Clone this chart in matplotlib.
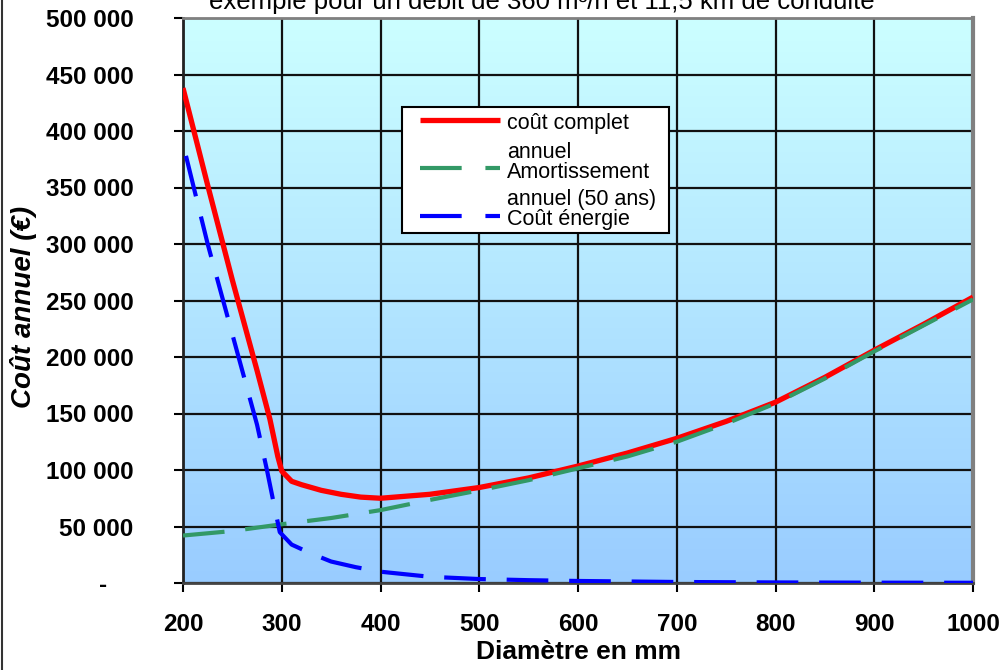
import numpy as np
import matplotlib
matplotlib.use("Agg")
import matplotlib.pyplot as plt
from matplotlib.ticker import FuncFormatter, MultipleLocator
from matplotlib.lines import Line2D
from matplotlib.patches import Rectangle

# --- data ---
diam_complet = [200, 225, 250, 275, 288, 296, 300, 310, 320, 340, 360, 380, 400,
                450, 500, 550, 600, 650, 700, 750, 800, 850, 900, 950, 1000]
cout_complet = [438000, 352000, 268000, 188000, 145000, 112000, 99000, 90000, 87000,
                82000, 78500, 76000, 75000, 78500, 84500, 93000, 103500, 115000,
                128000, 143000, 160000, 182000, 206000, 229000, 253000]

diam_amort = [200, 250, 300, 350, 400, 450, 500, 550, 600, 650, 700, 750,
              800, 850, 900, 950, 1000]
amortissement = [42000, 46000, 52000, 57500, 64500, 73500, 82000, 91000, 101500,
                 112000, 125000, 141000, 159000, 181000, 205000, 228000, 251000]

diam_energie = [203, 225, 250, 275, 285, 292, 298, 310, 330, 350, 375, 400, 450,
                500, 550, 600, 700, 800, 900, 1000]
cout_energie = [378000, 300000, 220000, 140000, 100000, 70000, 45000, 34000, 26000,
                19000, 14000, 10000, 5500, 3500, 2500, 1800, 900, 500, 300, 200]

labels = ["coût complet", "annuel", "Amortissement", "annuel (50 ans)", "Coût énergie"]

FONT = "Liberation Sans"
W, H = 1007, 670
fig = plt.figure(figsize=(W / 100, H / 100), dpi=100)
ax = fig.add_axes([183 / W, 1 - 583 / H, (973 - 183) / W, (583 - 18) / H])

# gradient background
top = np.array([204, 255, 255]) / 255
bot = np.array([153, 204, 255]) / 255
t = np.linspace(0, 1, 256)[:, None]
grad = (top * (1 - t) + bot * t).reshape(256, 1, 3)
ax.imshow(grad, extent=[0, 1, 0, 1], transform=ax.transAxes, aspect="auto", zorder=0)

ax.plot(diam_complet, cout_complet, color="#ff0000", lw=3.8, zorder=3,
        solid_capstyle="butt")
ax.plot(diam_amort, amortissement, color="#339966", lw=3.0, dashes=(10, 5), zorder=4)
ax.plot(diam_energie, cout_energie, color="#0000ff", lw=3.0, dashes=(10, 5), zorder=4)

ax.set_xlim(200, 1000)
ax.set_ylim(0, 500000)
ax.xaxis.set_major_locator(MultipleLocator(100))
ax.yaxis.set_major_locator(MultipleLocator(50000))
ax.yaxis.set_major_formatter(FuncFormatter(
    lambda v, p: "-\u2007\u2007" if v == 0 else f"{int(v):,}".replace(",", " ")))
ax.grid(True, color="#111111", lw=1.6, zorder=1)
for gl in ax.get_xgridlines() + ax.get_ygridlines():
    gl.set_zorder(1)

ax.tick_params(direction="out", length=6.5, width=1.5, pad=15, labelsize=17.5)
ax.tick_params(axis="y", pad=29)
for lab in ax.get_xticklabels() + ax.get_yticklabels():
    lab.set_fontweight("bold")
    lab.set_family(FONT)

ax.spines["left"].set_color("#222222")
ax.spines["bottom"].set_color("#444444")
ax.spines["top"].set_color("#808080")
ax.spines["right"].set_color("#808080")
for s in ax.spines.values():
    s.set_linewidth(2)
ax.spines["right"].set_linewidth(3)

ax.set_xlabel("Diamètre en mm", fontsize=19, fontweight="bold", family=FONT,
              labelpad=3)
ax.set_ylabel("Coût annuel (€)", fontsize=20, fontweight="bold", style="italic",
              family=FONT, va="center")
ax.yaxis.set_label_coords(-0.2013, 0.488)

# title, cut off at the top of the picture
fig.text(542 / W, 1 - 9 / H, "exemple pour un débit de 360 m³/h et 11,5 km de conduite",
         ha="center", va="baseline", fontsize=18.5, family=FONT)

# left border of the figure
fig.add_artist(Line2D([1.5 / W, 1.5 / W], [0, 1], color="#333333", lw=1.5))

# legend drawn by hand
def fx(px):
    return px / W

def fy(py):
    return 1 - py / H

fig.add_artist(Rectangle((fx(402), fy(233)), fx(669) - fx(402), fy(107) - fy(233),
                         facecolor="white", edgecolor="black", lw=1.5, zorder=10))
fig.add_artist(Line2D([fx(420), fx(500)], [fy(120), fy(120)], color="#ff0000",
                      lw=3.8, zorder=11, solid_capstyle="butt"))
fig.add_artist(Line2D([fx(420), fx(500)], [fy(168), fy(168)], color="#339966",
                      lw=3.0, dashes=(10, 5.7), zorder=11))
fig.add_artist(Line2D([fx(420), fx(500)], [fy(216), fy(216)], color="#0000ff",
                      lw=3.0, dashes=(10, 5.7), zorder=11))
for lab, py in zip(labels, [124, 152, 172, 200, 219]):
    fig.text(fx(507), fy(py), lab, ha="left", va="center", fontsize=15.5,
             family=FONT, zorder=12)

fig.savefig("out.png", dpi=100)
